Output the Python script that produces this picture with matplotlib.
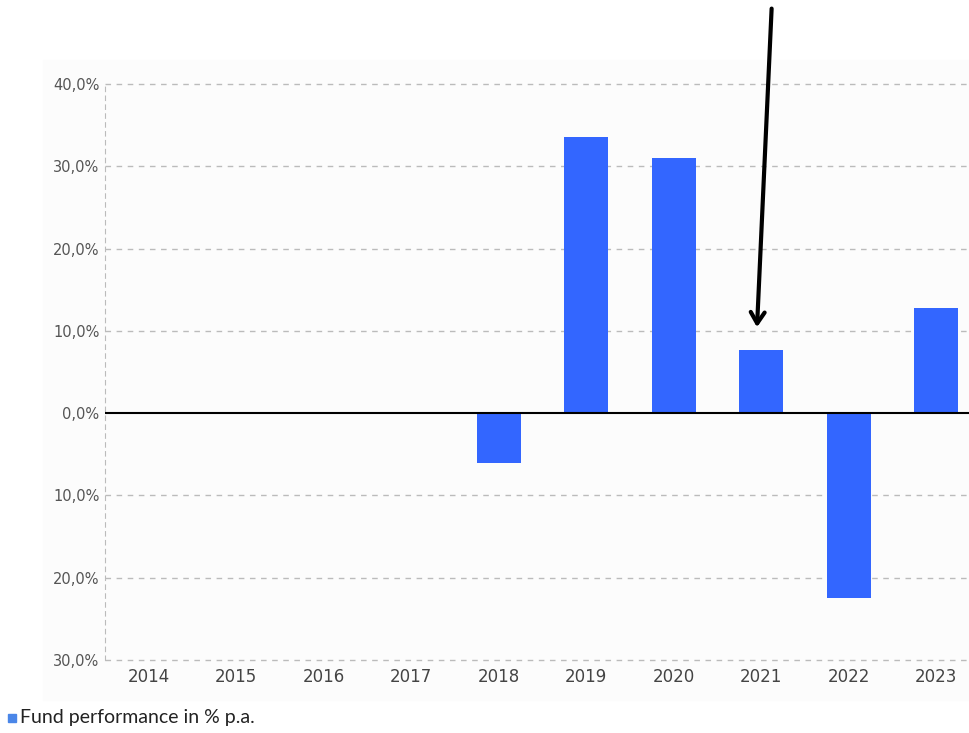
import matplotlib.pyplot as plt
from matplotlib.patches import Rectangle

# Yearly fund performance in % (years without data left empty)
years = ['2014', '2015', '2016', '2017', '2018', '2019', '2020', '2021', '2022', '2023']
perf = [None, None, None, None, -6.0, 33.5, 31.0, 7.7, -22.5, 12.8]
y_ticks = [-30, -20, -10, 0, 10, 20, 30, 40]
y_labels = ['30,0%', '20,0%', '10,0%', '0,0%', '10,0%', '20,0%', '30,0%', '40,0%']
legend_label = 'Fund performance in % p.a.'

fig = plt.figure(figsize=(9.7, 7.33), dpi=100)
fig.patches.append(Rectangle((43 / 970, 33 / 733), 1, 1 - 33 / 733 - 60 / 733,
                             transform=fig.transFigure, color='#fcfcfc', zorder=-5))
ax = fig.add_axes([105 / 970, 73 / 733, 1 - 105 / 970, (660 - 84) / 733])
ax.set_facecolor('none')

xs = [i for i, v in enumerate(perf) if v is not None]
vals = [v for v in perf if v is not None]
ax.bar(xs, vals, width=0.5, color='#3366ff', zorder=3)

ax.set_xlim(-0.5, -0.5 + 865 / 87.5)
ax.set_ylim(-30, 40)
ax.set_yticks(y_ticks)
ax.set_yticklabels(y_labels, fontsize=10.5, color='#555555', family='DejaVu Sans')
ax.set_xticks(range(len(years)))
ax.set_xticklabels(years, fontsize=12, color='#444444', family='DejaVu Sans')
ax.tick_params(axis='both', length=0)
ax.tick_params(axis='y', pad=4)
ax.tick_params(axis='x', pad=6)

for t in y_ticks:
    if t != 0:
        ax.axhline(t, color='#bbbbbb', linestyle=(0, (4, 4)), linewidth=1, zorder=1, clip_on=False)
ax.axhline(0, color='black', linewidth=1.5, zorder=4)

for s in ['top', 'right', 'bottom']:
    ax.spines[s].set_visible(False)
ax.spines['left'].set_color('#bbbbbb')
ax.spines['left'].set_linestyle((0, (4, 4)))

# hand-drawn style arrow pointing at 2021
ax.annotate('', xy=(6.95, 10.1), xytext=(7.12, 49.5), xycoords='data', textcoords='data',
            annotation_clip=False,
            arrowprops=dict(arrowstyle='->,head_length=0.8,head_width=0.5', color='black', lw=3))

# legend
fig.patches.append(Rectangle((8 / 970, 1 - 722 / 733), 8 / 970, 8 / 733,
                             transform=fig.transFigure, color='#4a86e8'))
fig.text(20 / 970, 1 - 717 / 733, legend_label, fontsize=14, color='#222222',
         family='Lato', va='center', ha='left')

fig.savefig('out.png', dpi=100)
